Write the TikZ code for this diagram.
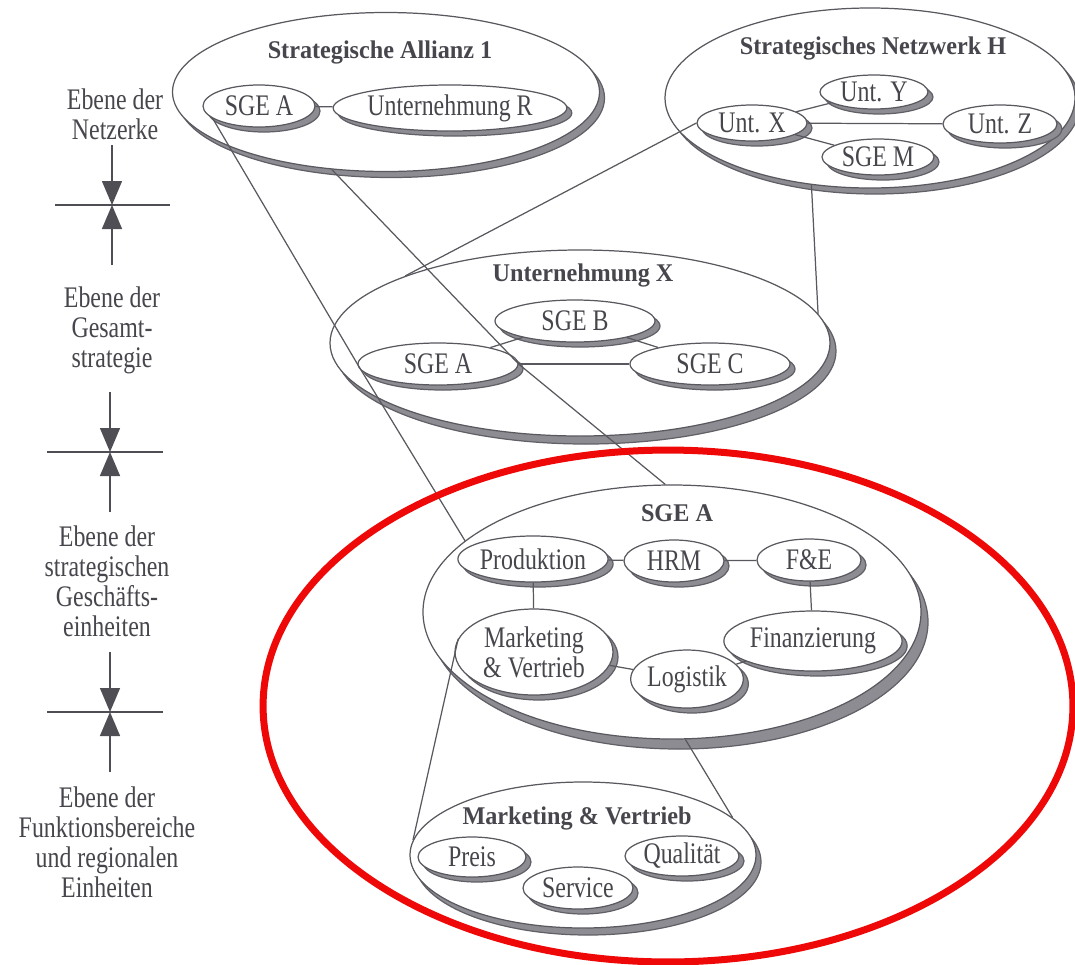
\documentclass[tikz,border=0pt]{standalone}
\usepackage{fontspec}
\setmainfont{Liberation Serif}[FakeStretch=0.8]
\newfontfamily\headfont{Liberation Serif}[FakeStretch=0.95]
\definecolor{LineGray}{RGB}{88,88,94}
\definecolor{ShadowGray}{RGB}{140,140,146}
\definecolor{ShadowEdge}{RGB}{96,96,102}
\definecolor{InkGray}{RGB}{70,70,76}
\definecolor{ArrowGray}{RGB}{78,78,84}
\definecolor{MarkRed}{RGB}{238,8,8}
\usetikzlibrary{shapes.geometric, shadows, arrows.meta}
\newcommand{\pxl}{0.02cm}
\tikzset{
  unit/.style 2 args={ellipse, draw=LineGray, fill=white, line width=0.7pt, inner sep=0pt,
    text=InkGray, align=center, font=\fontsize{17}{17}\selectfont,
    minimum width=#1*\pxl, minimum height=#2*\pxl,
    drop shadow={shadow xshift=0.1cm, shadow yshift=-0.1cm, fill=ShadowGray, draw=ShadowEdge, opacity=1}},
  bigunit/.style n args={4}{ellipse, draw=LineGray, fill=white, line width=0.7pt, inner sep=0pt,
    minimum width=#1*\pxl, minimum height=#2*\pxl,
    drop shadow={shadow xshift=#3*\pxl, shadow yshift=-#4*\pxl, fill=ShadowGray, draw=ShadowEdge, opacity=1}},
  head/.style={font=\headfont\bfseries\fontsize{14.5}{16}\selectfont, text=InkGray},
  level/.style={align=center, font=\fontsize{17}{17}\selectfont, text=InkGray},
  link/.style={draw=LineGray, line width=0.7pt},
  ruler/.style={draw=ArrowGray, line width=0.8pt}
}

\begin{document}
\begin{tikzpicture}[x=0.02cm, y=-0.02cm]
          \useasboundingbox (0,0) rectangle (1075,964);
          \node[bigunit={427}{159}{5}{6}] (allianz) at (386,92) {};
          \node[bigunit={410}{180}{5}{6}] (netz) at (870,98) {};
          \node[bigunit={500}{186}{6}{8}] (ux) at (580,343) {};
          \node[bigunit={498}{254}{7}{10}] (sgea) at (672,612) {};
          \node[bigunit={346}{146}{5}{7}] (mv) at (583,855) {};
          \node[head] (allianz-t) at (380,52) {Strategische Allianz 1};
          \node[head] (netz-t) at (873,48) {Strategisches Netzwerk H};
          \node[head] (ux-t) at (583,275) {Unternehmung X};
          \node[head] (sgea-t) at (677,513) {SGE A};
          \node[head] (mv-t) at (577,818) {Marketing \& Vertrieb};
          \node[unit={112}{42}] (a1sge) at (259,106) {SGE A};
          \node[unit={206}{46}] (a1r) at (450,108) {Unternehmung R};
          \node[unit={110}{36}] (nx) at (752,123) {Unt. X};
          \node[unit={108}{34}] (ny) at (874,92) {Unt. Y};
          \node[unit={114}{38}] (nz) at (1000,124) {Unt. Z};
          \node[unit={112}{36}] (nm) at (878,157) {SGE M};
          \node[unit={160}{42}] (uxb) at (575,321) {SGE B};
          \node[unit={160}{42}] (uxa) at (438,364) {SGE A};
          \node[unit={160}{42}] (uxc) at (710,364) {SGE C};
          \node[unit={135}{46}] (prod) at (533,559) {Produktion};
          \node[unit={100}{42}] (hrm) at (674,561) {HRM};
          \node[unit={104}{42}] (fue) at (809,560) {F\&E};
          \node[unit={158}{86}] (mkt) at (534,652) {Marketing\\\& Vertrieb};
          \node[unit={112}{58}] (log) at (687,679) {Logistik};
          \node[unit={160}{60}] (fin) at (813,641) {Finanzierung};
          \node[unit={108}{40}] (preis) at (472,857) {Preis};
          \node[unit={110}{42}] (serv) at (578,888) {Service};
          \node[unit={114}{40}] (qual) at (682,856) {Qualität};
          \draw[link] (a1sge) -- (a1r);
          \draw[link] (nx) -- (ny);
          \draw[link] (nx) -- (nz);
          \draw[link] (nx) -- (nm);
          \draw[link] (uxa) -- (uxb);
          \draw[link] (uxb) -- (uxc);
          \draw[link] (uxa) -- (uxc);
          \draw[link] (prod) -- (hrm);
          \draw[link] (hrm) -- (fue);
          \draw[link] (prod) -- (mkt);
          \draw[link] (fue) -- (fin);
          \draw[link] (mkt) -- (log);
          \draw[link] (log) -- (fin);
          \draw[link] (a1sge.195) -- (uxa.west) -- (sgea.161);
          \draw[link] (allianz.235) -- (uxa.east) -- (sgea.93);
          \draw[link] (nx.west) -- (ux.159);
          \draw[link] (netz.236) -- (ux.7);
          \draw[link] (mkt.170) -- (mv.175);
          \draw[link] (sgea.-84) -- (mv.14);
          \foreach \yc/\xc/\xl/\xr [count=\i] in {205/112/55/170, 452/110/47/163, 712/110/47/163} {
            \coordinate (cross\i) at (\xc,\yc);
            \coordinate (top\i) at (\xc,\yc-60);
            \coordinate (bot\i) at (\xc,\yc+60);
            \draw[ruler] (\xl,\yc) -- (\xr,\yc);
            \draw[ruler, -{Triangle[width=0.4cm, length=0.48cm]}] (top\i) -- (cross\i);
            \draw[ruler, -{Triangle[width=0.4cm, length=0.48cm]}] (bot\i) -- (cross\i);
          }
          \node[level] (lv1) at (115,114) {Ebene der\\Netzerke};
          \node[level] (lv2) at (112,330) {Ebene der\\Gesamt-\\strategie};
          \node[level] (lv3) at (107,581) {Ebene der\\strategischen\\Geschäfts-\\einheiten};
          \node[level] (lv4) at (107,842) {Ebene der\\Funktionsbereiche\\und regionalen\\Einheiten};
          \draw[MarkRed, line width=0.14cm] (668,706) ellipse [x radius=8.1cm, y radius=5.12cm];
        \end{tikzpicture}
\end{document}
